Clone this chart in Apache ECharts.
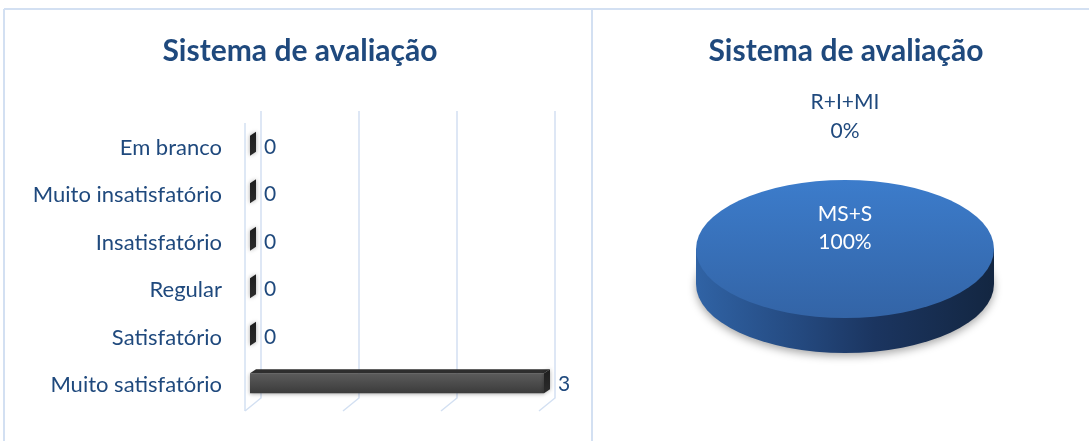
<!DOCTYPE html>
<html>
<head>
<meta charset="utf-8">
<script src="https://cdn.jsdelivr.net/npm/echarts@6/dist/echarts.min.js"></script>
<style>
  html, body { margin: 0; padding: 0; background: #fff; }
  #main { width: 1089px; height: 441px; }
</style>
</head>
<body>
<div id="main"></div>
<script>
// data
const titleText = "Sistema de avaliação";
const categories = ["Em branco", "Muito insatisfatório", "Insatisfatório", "Regular", "Satisfatório", "Muito satisfatório"];
const counts = [0, 0, 0, 0, 0, 3];
const xTicks = [0, 1, 2, 3];
const pieNames = ["MS+S", "R+I+MI"];
const pieValues = [100, 0];

const textColor = "#1f497d";
const fontFamily = "Lato, 'Open Sans', sans-serif";
const gridColor = "#d3e0f2";

// gridlines drawn as a 3D "wall" + floor
function renderGrid(params, api) {
  const cs = params.coordSys;
  const p = api.coord([api.value(0), 0]);
  const x = p[0];
  const top = cs.y - 13, bottom = cs.y + cs.height - 11;
  const children = [
    { type: "polyline", shape: { points: [[x, top], [x, bottom], [x - 16, bottom + 13]] },
      style: { stroke: gridColor, lineWidth: 1.5, fill: null } }
  ];
  if (api.value(0) === 0) {
    children.push({ type: "line", shape: { x1: x - 16, y1: cs.y - 1, x2: x - 16, y2: bottom + 13 },
      style: { stroke: gridColor, lineWidth: 1.5 } });
  }
  return { type: "group", children: children };
}

// 3D box bar
function renderBar(params, api) {
  const v = api.value(0);
  const i = api.value(1);
  const p0 = api.coord([0, i]);
  const p1 = api.coord([v, i]);
  const cy = p0[1];
  const fx0 = p0[0] - 11, fx1 = p1[0] - 11;
  const bx0 = fx0 + 6, bx1 = fx1 + 6;
  const t = cy - 12, b = cy + 8, d = 4;
  const children = [];
  if (fx1 > fx0) {
    children.push({ type: "rect", shape: { x: fx0, y: t, width: fx1 - fx0, height: b - t },
      style: { fill: new echarts.graphic.LinearGradient(0, 0, 0, 1, [
        { offset: 0, color: "#5c5c5c" }, { offset: 1, color: "#3b3b3b" }]),
        shadowBlur: 4, shadowColor: "rgba(0,0,0,0.35)", shadowOffsetY: 1 } });
    children.push({ type: "polygon", shape: { points: [[fx0, t], [fx1, t], [bx1, t - d], [bx0, t - d]] },
      style: { fill: "#2e2e2e" } });
  }
  children.push({ type: "polygon", shape: { points: [[fx1, t], [bx1, t - d], [bx1, b - d], [fx1, b]] },
    style: { fill: new echarts.graphic.LinearGradient(0, 0, 0, 1, [
      { offset: 0, color: "#1e1e1e" }, { offset: 1, color: "#2c2c2c" }]),
      shadowBlur: 4, shadowColor: "rgba(0,0,0,0.35)" } });
  children.push({ type: "text", style: { text: String(v), x: bx1 + 8, y: cy - 1,
    align: "left", verticalAlign: "middle", fontSize: 21, fontFamily: fontFamily, fill: textColor } });
  return { type: "group", children: children };
}

// elliptical 3D pie
function renderPie(params, api) {
  const idx = params.dataIndex;
  const total = pieValues.reduce((a, b) => a + b, 0);
  let before = 0;
  for (let k = 0; k < idx; k++) before += pieValues[k];
  const v = api.value(0);
  const frac = v / total;
  const start = -Math.PI / 2 + (before / total) * 2 * Math.PI;
  const end = start + frac * 2 * Math.PI;
  const cx = 845, cy = 249, rx = 149, ry = 69, depth = 35;
  const sy = ry / rx;
  const children = [];
  if (v > 0) {
    const dz = depth / sy;
    const sideFill = () => new echarts.graphic.LinearGradient(0, 0, 1, 0, [
      { offset: 0, color: "#3063a5" }, { offset: 0.35, color: "#24497f" },
      { offset: 0.6, color: "#1b3560" }, { offset: 1, color: "#132641" }]);
    children.push({ type: "group", x: cx, y: cy, scaleY: sy, children: [
      { type: "sector", shape: { cx: 0, cy: dz, r0: 0, r: rx, startAngle: start, endAngle: end },
        style: { fill: sideFill(), shadowBlur: 8, shadowColor: "rgba(0,0,0,0.35)", shadowOffsetY: 3 } },
      { type: "rect", shape: { x: -rx, y: 0, width: 2 * rx, height: dz }, style: { fill: sideFill() } },
      { type: "sector", shape: { cx: 0, cy: 0, r0: 0, r: rx, startAngle: start, endAngle: end },
        style: { fill: new echarts.graphic.LinearGradient(0, 0, 0, 1, [
          { offset: 0, color: "#3c7ccb" }, { offset: 1, color: "#3364a6" }]) } }
    ] });
  }
  const name = pieNames[idx];
  const label = name + "\n" + Math.round(frac * 100) + "%";
  if (frac > 0.5) {
    children.push({ type: "text", style: { text: label, x: cx, y: cy - 21, align: "center",
      verticalAlign: "middle", fontSize: 21, lineHeight: 28, fontFamily: fontFamily, fill: "#ffffff" } });
  } else {
    const mid = (start + end) / 2;
    children.push({ type: "text", style: { text: label, x: cx + Math.cos(mid) * (rx + 30),
      y: cy + Math.sin(mid) * (ry + 63), align: "center", verticalAlign: "middle",
      fontSize: 21, lineHeight: 29, fontFamily: fontFamily, fill: textColor } });
  }
  return { type: "group", children: children };
}

const chart = echarts.init(document.getElementById("main"));
chart.setOption({
  animation: false,
  title: [
    { text: titleText, left: 295, top: 31, textAlign: "center",
      textStyle: { fontSize: 30, fontWeight: "bold", color: textColor, fontFamily: fontFamily } },
    { text: titleText, left: 841, top: 31, textAlign: "center",
      textStyle: { fontSize: 30, fontWeight: "bold", color: textColor, fontFamily: fontFamily } }
  ],
  graphic: [
    { type: "line", shape: { x1: 4, y1: 9, x2: 1089, y2: 9 }, style: { stroke: gridColor, lineWidth: 2 } },
    { type: "line", shape: { x1: 4, y1: 9, x2: 4, y2: 441 }, style: { stroke: gridColor, lineWidth: 2 } },
    { type: "line", shape: { x1: 592, y1: 9, x2: 592, y2: 441 }, style: { stroke: gridColor, lineWidth: 2 } }
  ],
  grid: { left: 261, top: 124, width: 294, height: 285 },
  xAxis: { type: "value", min: 0, max: 3, interval: 1,
    axisLabel: { show: false }, axisLine: { show: false }, axisTick: { show: false }, splitLine: { show: false } },
  yAxis: { type: "category", data: categories, inverse: true,
    axisLine: { show: false }, axisTick: { show: false },
    axisLabel: { margin: 39, fontSize: 22, color: textColor, fontFamily: fontFamily } },
  series: [
    { type: "custom", renderItem: renderGrid, data: xTicks.map(t => [t, 0]), encode: { x: 0, y: 1 }, z: 1, silent: true },
    { type: "custom", renderItem: renderBar, data: counts.map((v, i) => [v, i]), encode: { x: 0, y: 1 }, z: 3 },
    { type: "custom", coordinateSystem: "none", renderItem: renderPie, data: pieValues.map(v => [v]), z: 3 }
  ]
});
</script>
</body>
</html>
